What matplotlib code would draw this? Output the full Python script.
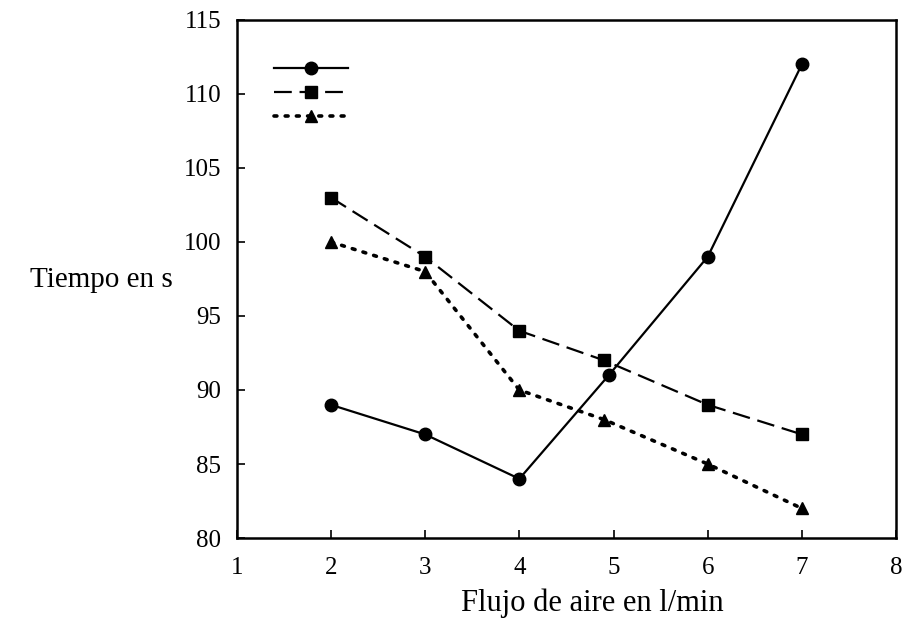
import matplotlib.pyplot as plt

plt.rcParams['font.family'] = ['Liberation Serif', 'DejaVu Serif']

# data
x_circ = [2, 3, 4, 4.95, 6, 7]
y_circ = [89, 87, 84, 91, 99, 112]
x_sq = [2, 3, 4, 4.9, 6, 7]
y_sq = [103, 99, 94, 92, 89, 87]
x_tri = [2, 3, 4, 4.9, 6, 7]
y_tri = [100, 98, 90, 88, 85, 82]

xticks = [1, 2, 3, 4, 5, 6, 7, 8]
yticks = [80, 85, 90, 95, 100, 105, 110, 115]

fig = plt.figure(figsize=(9.07, 6.22), dpi=100)
ax = fig.add_axes([0.261, 0.135, 0.727, 0.833])

l1, = ax.plot(x_circ, y_circ, color='black', linestyle='-', linewidth=1.6,
              marker='o', markersize=9)
l2, = ax.plot(x_sq, y_sq, color='black', linestyle=(0, (8, 3.5)), linewidth=1.6,
              marker='s', markersize=8)
l3, = ax.plot(x_tri, y_tri, color='black', linestyle=(0, (0.8, 2.3)), linewidth=2.6,
              marker='^', markersize=9, dash_capstyle='round')

ax.set_xlim(1, 8)
ax.set_ylim(80, 115)
ax.set_xticks(xticks)
ax.set_yticks(yticks)
ax.tick_params(direction='in', length=6, width=1.2, labelsize=18,
               top=False, right=False)
ax.tick_params(axis='y', pad=11)
ax.tick_params(axis='x', pad=14)
for sp in ax.spines.values():
    sp.set_linewidth(1.8)

ax.set_xlabel('Flujo de aire en l/min', fontsize=22, va='center')
ax.xaxis.set_label_coords(0.54, -0.125)
ax.set_ylabel('Tiempo en s', fontsize=21, rotation=0, va='center', ha='center')
ax.yaxis.set_label_coords(-0.205, 0.498)

ax.legend([l1, l2, l3], ['', '', ''], loc='upper left', frameon=False,
          handlelength=3.8, fontsize=14, bbox_to_anchor=(0.03, 0.954),
          labelspacing=0.33, handletextpad=0)

fig.savefig('out.png', dpi=100)
